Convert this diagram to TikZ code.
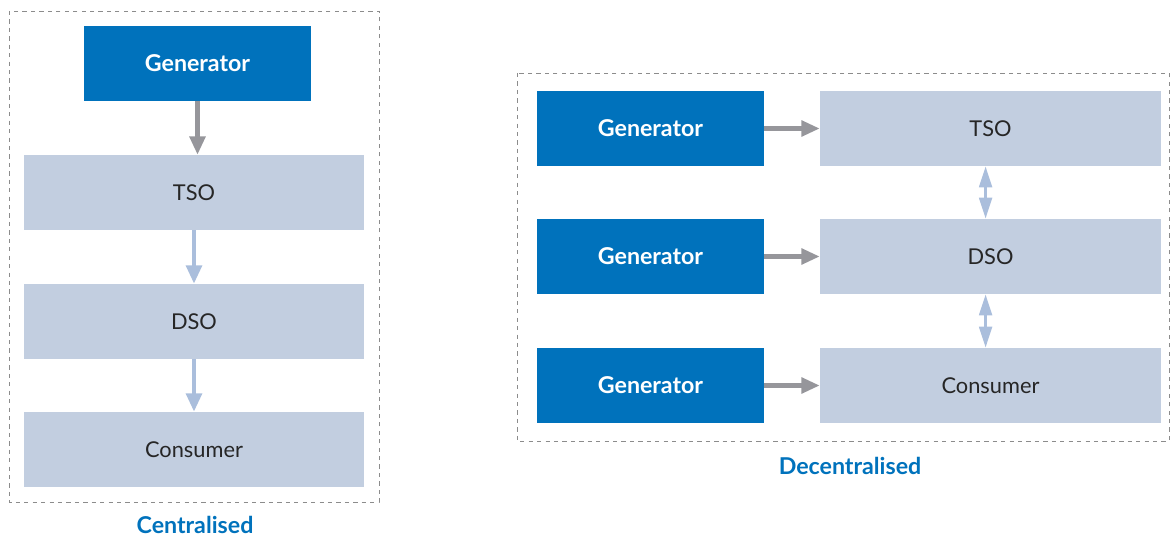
\documentclass[tikz,border=0pt]{standalone}
\usepackage{fontspec}
\setmainfont{Lato}
\definecolor{genblue}{RGB}{0,114,188}
\definecolor{paleblue}{RGB}{194,206,224}
\definecolor{arrowgray}{RGB}{150,150,155}
\definecolor{arrowblue}{RGB}{170,190,220}
\definecolor{framegray}{RGB}{140,140,140}
\usetikzlibrary{positioning, arrows.meta}

\begin{document}
\begin{tikzpicture}[x=0.025cm, y=-0.025cm,
    genbox/.style={fill=genblue, text=white, minimum width=5.675cm,
      minimum height=1.875cm, inner sep=0pt, font=\fontsize{16.5}{19}\selectfont\bfseries},
    opbox/.style={fill=paleblue, text=black!85, minimum width=8.5cm,
      minimum height=1.875cm, inner sep=0pt, font=\fontsize{15.5}{18}\selectfont},
    feed/.style={-{Triangle[length=13pt, width=11pt]}, arrowgray, line width=3pt},
    flow/.style={-{Triangle[length=13pt, width=11pt]}, arrowblue, line width=3pt},
    link/.style={{Triangle[length=15pt, width=9pt]}-{Triangle[length=15pt, width=9pt]}, arrowblue, line width=2.2pt},
    frame/.style={draw=framegray, dashed, line width=0.6pt},
    caption/.style={text=genblue, font=\fontsize{16.5}{19}\selectfont\bfseries},
  ]
    \useasboundingbox (0,0) rectangle (1171,538);

    % centralised
    \draw[frame] (9,11) rectangle (379,502);
    \node[genbox] (cgen) at (197.5,63.5) {Generator};
    \node[opbox] (ctso) at (194,192.5) {TSO};
    \node[opbox] (cdso) at (194,321.5) {DSO};
    \node[opbox] (ccon) at (194,449.5) {Consumer};
    \draw[feed] (cgen.south) -- (ctso.north -| cgen.south);
    \draw[flow] (ctso) -- (cdso);
    \draw[flow] (cdso) -- (ccon);
    \node[caption] (clabel) at (195,525) {Centralised};

    % decentralised
    \draw[frame] (517,73) rectangle (1169,441);
    \foreach \y/\op/\name in {128.5/TSO/tso, 256.5/DSO/dso, 385.5/Consumer/con} {
      \node[genbox] (gen\name) at (650.5,\y) {Generator};
      \node[opbox, minimum width=8.525cm] (\name) at (990.5,\y) {\op};
      \draw[feed] (gen\name) -- (\name);
    }
    \draw[link] ([xshift=-3.5pt]tso.south) -- ([xshift=-3.5pt]dso.north);
    \draw[link] ([xshift=-3.5pt]dso.south) -- ([xshift=-3.5pt]con.north);
    \node[caption] (dlabel) at (850,466) {Decentralised};
  \end{tikzpicture}
\end{document}
